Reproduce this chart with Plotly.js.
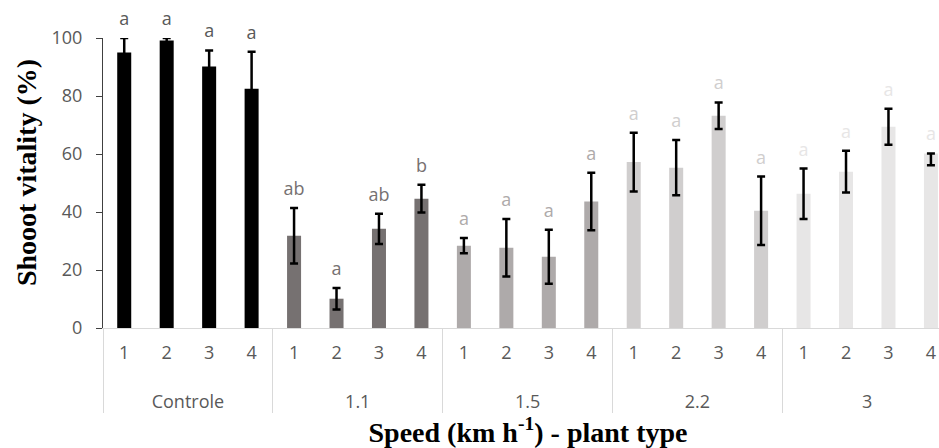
<!DOCTYPE html>
<html>
<head>
<meta charset="utf-8">
<script src="https://cdn.plot.ly/plotly-3.0.1.min.js"></script>
<style>html,body{margin:0;padding:0;background:#fff;overflow:hidden;}#chart{width:939px;height:448px;}</style>
</head>
<body>
<div id="chart"></div>
<script>
// ---- data ----
const speeds = ["Controle", "1.1", "1.5", "2.2", "3"];
const plantTypes = ["1", "2", "3", "4"];
const vitControle = [95.0, 99.1, 90.2, 82.5];
const vit11 = [31.8, 10.1, 34.2, 44.6];
const vit15 = [28.4, 27.7, 24.6, 43.6];
const vit22 = [57.2, 55.3, 73.2, 40.4];
const vit3 = [46.3, 53.9, 69.4, 60.2];
const errPlusControle = [5.0, 0.9, 5.5, 12.8];
const errPlus11 = [9.6, 3.7, 5.2, 4.8];
const errPlus15 = [2.6, 9.9, 9.3, 9.9];
const errPlus22 = [10.1, 9.5, 4.6, 11.8];
const errPlus3 = [8.7, 7.2, 6.2, 0];
const errMinusControle = [5.0, 0.9, 5.5, 12.8];
const errMinus11 = [9.6, 3.7, 5.2, 4.8];
const errMinus15 = [2.6, 9.9, 9.3, 9.9];
const errMinus22 = [10.1, 9.5, 4.6, 11.8];
const errMinus3 = [8.7, 7.2, 6.2, 4.1];
const lettersControle = ["a", "a", "a", "a"];
const letters11 = ["ab", "a", "ab", "b"];
const letters15 = ["a", "a", "a", "a"];
const letters22 = ["a", "a", "a", "a"];
const letters3 = ["a", "a", "a", "a"];

// ---- styles ----
const barColors = ["#000000", "#767171", "#AEAAAA", "#D0CECE", "#E7E6E6"];
const letterColors = ["#595959", "#767171", "#AEAAAA", "#D0CECE", "#E7E6E6"];

const vals = [vitControle, vit11, vit15, vit22, vit3];
const ep = [errPlusControle, errPlus11, errPlus15, errPlus22, errPlus3];
const em = [errMinusControle, errMinus11, errMinus15, errMinus22, errMinus3];
const lets = [lettersControle, letters11, letters15, letters22, letters3];

const xg = [], xt = [], y = [], eP = [], eM = [], cols = [], ltxt = [], lcol = [], ly = [];
speeds.forEach((s, gi) => {
  plantTypes.forEach((t, ti) => {
    xg.push(s); xt.push(t);
    y.push(vals[gi][ti]);
    eP.push(ep[gi][ti]); eM.push(em[gi][ti]);
    cols.push(barColors[gi]);
    ltxt.push(lets[gi][ti]); lcol.push(letterColors[gi]);
    ly.push(vals[gi][ti] + ep[gi][ti]);
  });
});

const tickFont = {family: "Open Sans, sans-serif", size: 18, color: "#595959"};
const titleFont = {family: "Liberation Serif, Times New Roman, serif", size: 28, color: "#000000", weight: "bold"};

const traces = [
  {
    type: "bar",
    x: [xg, xt],
    y: y,
    marker: {color: cols},
    error_y: {type: "data", symmetric: false, array: eP, arrayminus: eM,
              color: "#000000", thickness: 2.5, width: 4},
    hoverinfo: "y",
    showlegend: false
  },
  {
    type: "scatter",
    mode: "text+markers",
    x: [xg, xt],
    y: ly,
    text: ltxt,
    textposition: "top center",
    textfont: {family: "Open Sans, sans-serif", size: 18, color: lcol},
    marker: {size: 12, opacity: 0},
    cliponaxis: false,
    hoverinfo: "skip",
    showlegend: false
  }
];

const layout = {
  width: 939, height: 448,
  margin: {l: 103, r: 0, t: 38, b: 120, pad: 0},
  paper_bgcolor: "#ffffff",
  plot_bgcolor: "#ffffff",
  bargap: 0.67,
  xaxis: {
    type: "multicategory",
    range: [-0.5, 19.19],
    showline: true, linecolor: "#D9D9D9", linewidth: 1,
    showdividers: true, dividercolor: "#D9D9D9", dividerwidth: 1,
    ticks: "",
    ticksuffix: "<br><span style='font-size:40px'>\u00a0</span>",
    ticklabelstandoff: 8,
    tickfont: tickFont,
    showgrid: false, zeroline: false,
    title: {text: "&nbsp;&nbsp;Speed (km h<sup>-1</sup>) - plant type", font: titleFont, standoff: 10}
  },
  yaxis: {
    range: [0, 100],
    tickvals: [0, 20, 40, 60, 80, 100],
    showline: true, linecolor: "#404040", linewidth: 1,
    ticks: "outside", ticklen: 6, tickcolor: "#404040", tickwidth: 1,
    ticklabelstandoff: 10,
    tickfont: tickFont,
    showgrid: false, zeroline: false,
    title: {text: "&nbsp;&nbsp;&nbsp;Shooot vitality (%)", font: titleFont, standoff: 6}
  },
  font: {family: "Liberation Serif, serif"}
};

Plotly.newPlot("chart", traces, layout, {displayModeBar: false, staticPlot: true});
</script>
</body>
</html>
